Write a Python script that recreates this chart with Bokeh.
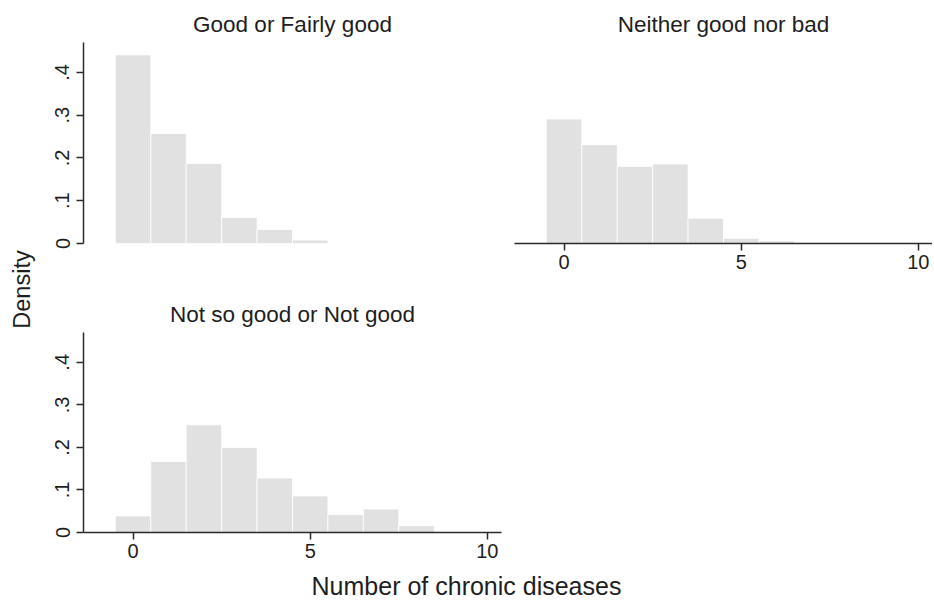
from bokeh.plotting import figure
from bokeh.layouts import row, column
from bokeh.models import Range1d, FixedTicker, Title, Spacer
from bokeh.embed import file_html
from bokeh.resources import INLINE

# ---- data (density per number of chronic diseases) ----
panel_titles = ["Good or Fairly good", "Neither good nor bad", "Not so good or Not good"]
bins_good = [0, 1, 2, 3, 4, 5]
dens_good = [0.441, 0.257, 0.187, 0.061, 0.033, 0.008]
bins_neither = [0, 1, 2, 3, 4, 5, 6]
dens_neither = [0.291, 0.231, 0.180, 0.186, 0.059, 0.012, 0.006]
bins_notgood = [0, 1, 2, 3, 4, 5, 6, 7, 8]
dens_notgood = [0.039, 0.167, 0.253, 0.200, 0.128, 0.086, 0.042, 0.055, 0.016]
x_ticks = [0, 5, 10]
y_ticks = [0, 0.1, 0.2, 0.3, 0.4]
y_tick_labels = {0: "0", 0.1: ".1", 0.2: ".2", 0.3: ".3", 0.4: ".4"}
x_title = "Number of chronic diseases"
y_title = "Density"

FONT = "Liberation Sans"
TXT = "#1e1e1e"
BAR = "#e1e1e1"
AX = "#2a2a2a"

X0, X1 = -1.4, 10.4
Y0, Y1 = 0.0, 0.47


def style_axis(ax, ticks, standoff):
    ax.ticker = FixedTicker(ticks=ticks)
    ax.minor_tick_line_color = None
    ax.major_tick_in = 0
    ax.major_tick_out = 7
    ax.axis_line_color = AX
    ax.axis_line_width = 1.5
    ax.major_tick_line_color = AX
    ax.major_tick_line_width = 1.5
    ax.major_label_text_font = FONT
    ax.major_label_text_font_size = "20px"
    ax.major_label_text_color = TXT
    ax.major_label_standoff = standoff


def panel(title, bins, dens, width, height, show_x, show_y, b_left, b_right, b_top, b_bottom):
    p = figure(width=width, height=height, output_backend="svg", toolbar_location=None,
               x_range=Range1d(X0, X1), y_range=Range1d(Y0, Y1),
               x_axis_location="below" if show_x else None,
               y_axis_location="left" if show_y else None,
               min_border_left=b_left, min_border_right=b_right,
               min_border_top=b_top, min_border_bottom=b_bottom)
    p.outline_line_color = None
    p.grid.visible = False
    p.background_fill_color = "white"
    p.border_fill_color = "white"
    t = Title(text=title, align="center", text_font=FONT, text_font_size="22.5px",
              text_font_style="normal", text_color=TXT, standoff=11)
    p.add_layout(t, "above")
    left = [b - 0.5 for b in bins]
    right = [b + 0.5 for b in bins]
    p.quad(left=left, right=right, bottom=0, top=dens, fill_color=BAR,
           line_color="white", line_width=0.8)
    if show_x:
        style_axis(p.xaxis[0], x_ticks, 4)
    if show_y:
        style_axis(p.yaxis[0], y_ticks, 7)
        p.yaxis[0].major_label_overrides = y_tick_labels
        p.yaxis[0].major_label_orientation = "vertical"
    return p


tl = panel(panel_titles[0], bins_good, dens_good, 468, 290, False, True, 43, 7, 42, 47)
tr = panel(panel_titles[1], bins_neither, dens_neither, 424, 290, True, False, 6, 0, 42, 47)
bl = panel(panel_titles[2], bins_notgood, dens_notgood, 468, 272, True, True, 43, 7, 42, 30)

ylab = figure(width=40, height=562, output_backend="svg", toolbar_location=None,
              x_axis_location=None, y_axis_location=None,
              min_border_left=34, min_border_right=0, min_border_top=16, min_border_bottom=0)
ylab.outline_line_color = None
ylab.grid.visible = False
ylab.add_layout(Title(text=y_title, align="center", text_font=FONT, text_font_size="23.5px",
                      text_font_style="normal", text_color=TXT, standoff=0), "left")

xlab = figure(width=932, height=38, output_backend="svg", toolbar_location=None,
              x_axis_location=None, y_axis_location=None,
              min_border_top=37, min_border_bottom=0, min_border_left=0, min_border_right=0)
xlab.outline_line_color = None
xlab.grid.visible = False
xlab.add_layout(Title(text=x_title, align="center", text_font=FONT, text_font_size="25px",
                      text_font_style="normal", text_color=TXT, standoff=0), "above")

grid = column(row(tl, tr), row(bl, Spacer(width=424, height=272)))
layout = column(row(ylab, grid), xlab)

open("out.html", "w").write(file_html(layout, INLINE))
